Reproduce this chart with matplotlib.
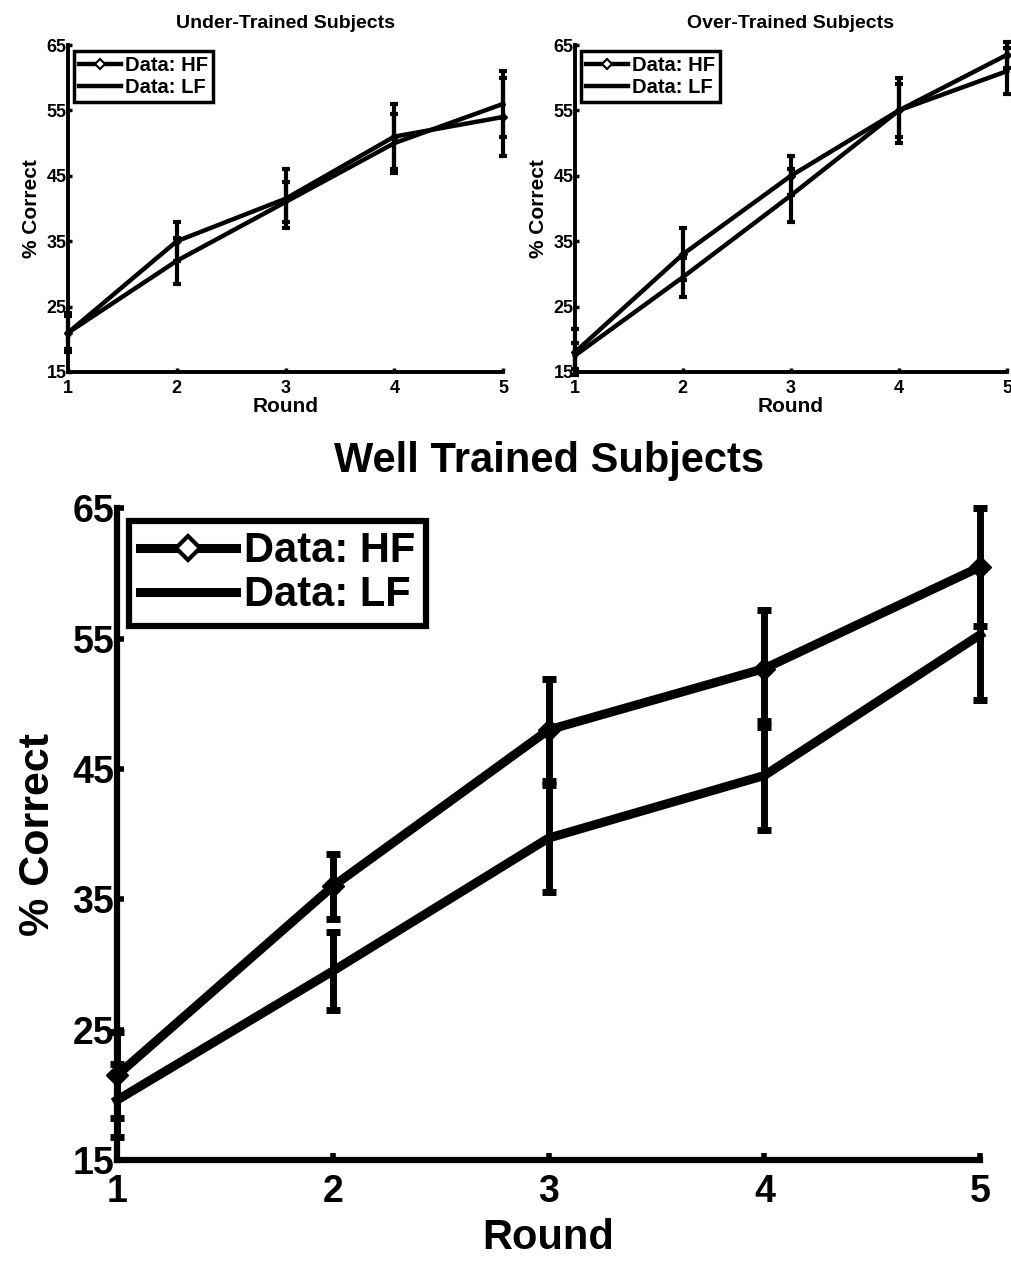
import matplotlib
matplotlib.use("Agg")
import matplotlib.pyplot as plt
from matplotlib.lines import Line2D

plt.rcParams['font.family'] = ['Liberation Sans', 'DejaVu Sans']
plt.rcParams['font.weight'] = 'bold'

rounds = [1, 2, 3, 4, 5]
series_labels = ['Data: HF', 'Data: LF']

# Under-trained
under_hf = [21.0, 35.0, 41.5, 51.0, 54.0]
under_hf_err = [2.5, 3.0, 4.5, 5.0, 6.0]
under_lf = [21.0, 32.0, 41.0, 50.0, 56.0]
under_lf_err = [3.0, 3.5, 3.0, 4.5, 5.0]

# Over-trained
over_hf = [18.0, 33.0, 45.0, 55.0, 63.5]
over_hf_err = [3.5, 4.0, 3.0, 5.0, 2.0]
over_lf = [17.5, 29.5, 42.0, 55.0, 61.0]
over_lf_err = [2.0, 3.0, 4.0, 4.0, 3.5]

# Well trained
well_hf = [21.5, 36.0, 48.0, 52.7, 60.5]
well_hf_err = [3.3, 2.5, 3.9, 4.5, 4.5]
well_lf = [19.6, 29.5, 39.7, 44.5, 55.3]
well_lf_err = [2.8, 3.0, 4.1, 4.2, 5.0]

yticks = [15, 25, 35, 45, 55, 65]

fig = plt.figure(figsize=(10.12, 12.61), dpi=100)


def style_axes(ax, lw, tick_fs, tick_len, tick_w, xpad, ypad):
    ax.set_xlim(1, 5)
    ax.set_ylim(15, 65)
    ax.set_xticks(rounds)
    ax.set_yticks(yticks)
    ax.spines['top'].set_visible(False)
    ax.spines['right'].set_visible(False)
    ax.spines['left'].set_linewidth(lw)
    ax.spines['bottom'].set_linewidth(lw)
    ax.tick_params(direction='in', length=tick_len, width=tick_w, labelsize=tick_fs)
    ax.tick_params(axis='x', pad=xpad)
    ax.tick_params(axis='y', pad=ypad)
    for lab in ax.get_xticklabels() + ax.get_yticklabels():
        lab.set_fontweight('bold')


def draw(ax, hf, hf_err, lf, lf_err, lw, ms_hf, ms_lf, elw, cap, capt):
    ax.errorbar(rounds, hf, yerr=hf_err, color='black', lw=lw, marker='D', ms=ms_hf,
                mfc='black', mec='black', elinewidth=elw, capsize=cap, capthick=capt,
                clip_on=False, zorder=3)
    ax.errorbar(rounds, lf, yerr=lf_err, color='black', lw=lw, marker='.', ms=ms_lf,
                elinewidth=elw, capsize=cap, capthick=capt,
                clip_on=False, zorder=3)


def add_legend(ax, lw, fs, dms, dmew, frame_lw, hl, spacing):
    handles = [
        Line2D([], [], color='black', lw=lw, marker='D', ms=dms, mfc='white', mec='black', mew=dmew),
        Line2D([], [], color='black', lw=lw, marker='.', ms=dms * 0.5),
    ]
    leg = ax.legend(handles, series_labels, loc='upper left', fontsize=fs, frameon=True,
                    fancybox=False, framealpha=1, edgecolor='black', handlelength=hl,
                    borderpad=0.25, labelspacing=spacing, handletextpad=0.2,
                    borderaxespad=0.3)
    leg.get_frame().set_linewidth(frame_lw)
    leg.get_frame().set_edgecolor('black')
    for t in leg.get_texts():
        t.set_fontweight('bold')
    return leg


# Top-left
ax1 = fig.add_axes([0.0672, 0.705, 0.43, 0.2593])
draw(ax1, under_hf, under_hf_err, under_lf, under_lf_err, 3.2, 4, 4, 3, 3, 3)
style_axes(ax1, 2.8, 13, 3, 2.5, 6, 1)
ax1.set_title('Under-Trained Subjects', fontsize=14, fontweight='bold', pad=12)
ax1.set_xlabel('Round', fontsize=15, fontweight='bold', labelpad=0)
ax1.set_ylabel('% Correct', fontsize=15, fontweight='bold', labelpad=4)
add_legend(ax1, 3.2, 14.5, 5, 1.5, 2.5, 2.1, 0.15)

# Top-right
ax2 = fig.add_axes([0.568, 0.705, 0.427, 0.2593])
draw(ax2, over_hf, over_hf_err, over_lf, over_lf_err, 3.2, 4, 4, 3, 3, 3)
style_axes(ax2, 2.8, 13, 3, 2.5, 6, 1)
ax2.set_title('Over-Trained Subjects', fontsize=14, fontweight='bold', pad=12)
ax2.set_xlabel('Round', fontsize=15, fontweight='bold', labelpad=0)
ax2.set_ylabel('% Correct', fontsize=15, fontweight='bold', labelpad=4)
add_legend(ax2, 3.2, 14.5, 5, 1.5, 2.5, 2.1, 0.15)

# Bottom
ax3 = fig.add_axes([0.1156, 0.080, 0.853, 0.517])
draw(ax3, well_hf, well_hf_err, well_lf, well_lf_err, 6.5, 11, 6, 5, 5, 5)
style_axes(ax3, 4.5, 27, 5, 4, 10, 2)
ax3.set_title('Well Trained Subjects', fontsize=30, fontweight='bold', pad=26)
ax3.set_xlabel('Round', fontsize=30, fontweight='bold', labelpad=6)
ax3.set_ylabel('% Correct', fontsize=31, fontweight='bold', labelpad=10)
add_legend(ax3, 6.5, 30, 12, 3, 4.5, 2.3, 0.1)

fig.savefig('out.png', dpi=100, facecolor='white')
